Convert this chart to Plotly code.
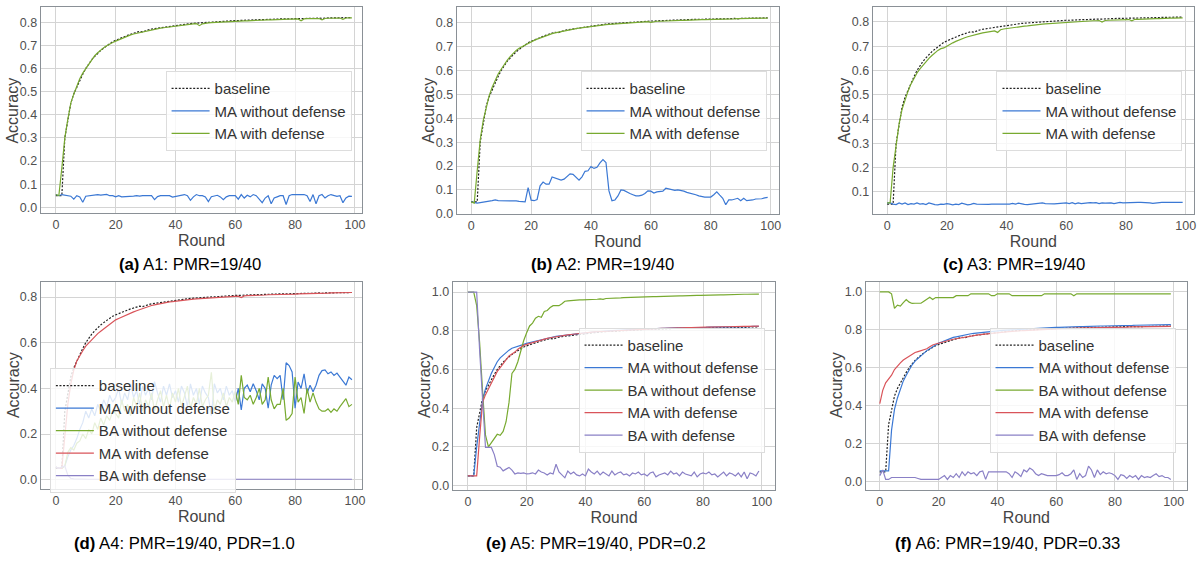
import plotly.graph_objects as go

# rounds 0..99
rounds = list(range(100))

# shared baseline run (no attack)
baseline = [0.05, 0.05, 0.05, 0.30, 0.38, 0.45, 0.49, 0.52, 0.55, 0.575,
            0.60, 0.62, 0.638, 0.652, 0.667, 0.678, 0.688, 0.698, 0.708, 0.716,
            0.722, 0.728, 0.733, 0.738, 0.743, 0.748, 0.752, 0.755, 0.760, 0.758,
            0.764, 0.767, 0.770, 0.772, 0.775, 0.777, 0.779, 0.781, 0.783, 0.785,
            0.787, 0.788, 0.790, 0.791, 0.793, 0.794, 0.795, 0.796, 0.797, 0.798,
            0.800, 0.801, 0.801, 0.802, 0.803, 0.803, 0.804, 0.805, 0.805, 0.806,
            0.807, 0.807, 0.808, 0.808, 0.809, 0.809, 0.810, 0.810, 0.811, 0.811,
            0.812, 0.812, 0.812, 0.813, 0.813, 0.814, 0.814, 0.814, 0.815, 0.815,
            0.815, 0.816, 0.816, 0.816, 0.817, 0.817, 0.817, 0.817, 0.818, 0.816,
            0.818, 0.818, 0.819, 0.819, 0.819, 0.818, 0.820, 0.819, 0.820, 0.820]

# (a) A1
a_ma_without = [0.055, 0.05, 0.055, 0.052, 0.05, 0.048, 0.035, 0.05, 0.045, 0.022,
                0.048, 0.05, 0.05, 0.052, 0.055, 0.053, 0.055, 0.056, 0.05, 0.05,
                0.045, 0.05, 0.045, 0.045, 0.046, 0.047, 0.048, 0.05, 0.048, 0.05,
                0.05, 0.05, 0.05, 0.033, 0.046, 0.05, 0.05, 0.05, 0.05, 0.044,
                0.046, 0.05, 0.052, 0.055, 0.05, 0.03, 0.045, 0.055, 0.05, 0.05,
                0.045, 0.025, 0.046, 0.05, 0.052, 0.045, 0.033, 0.045, 0.05, 0.05,
                0.05, 0.035, 0.055, 0.04, 0.052, 0.045, 0.055, 0.05, 0.035, 0.02,
                0.04, 0.05, 0.015, 0.04, 0.045, 0.05, 0.05, 0.012, 0.05, 0.055,
                0.055, 0.055, 0.054, 0.055, 0.05, 0.025, 0.055, 0.015, 0.05, 0.055,
                0.04, 0.05, 0.055, 0.05, 0.047, 0.05, 0.02, 0.04, 0.048, 0.047]
a_ma_with = [0.055, 0.05, 0.17, 0.30, 0.38, 0.45, 0.49, 0.525, 0.555, 0.58,
             0.60, 0.62, 0.64, 0.655, 0.668, 0.68, 0.69, 0.698, 0.706, 0.712,
             0.718, 0.724, 0.73, 0.735, 0.74, 0.745, 0.749, 0.752, 0.756, 0.759,
             0.762, 0.765, 0.768, 0.77, 0.772, 0.774, 0.776, 0.778, 0.78, 0.782,
             0.784, 0.785, 0.787, 0.789, 0.79, 0.791, 0.793, 0.794, 0.785, 0.793,
             0.796, 0.797, 0.798, 0.799, 0.8, 0.8, 0.801, 0.802, 0.803, 0.804,
             0.804, 0.805, 0.805, 0.806, 0.806, 0.807, 0.807, 0.808, 0.808, 0.809,
             0.809, 0.81, 0.81, 0.811, 0.811, 0.811, 0.812, 0.812, 0.813, 0.813,
             0.813, 0.814, 0.806, 0.814, 0.815, 0.815, 0.815, 0.816, 0.816, 0.81,
             0.816, 0.817, 0.817, 0.817, 0.818, 0.818, 0.812, 0.818, 0.819, 0.819]

# (b) A2
b_ma_without = [0.05, 0.048, 0.045, 0.047, 0.05, 0.052, 0.053, 0.055, 0.058, 0.055,
                0.055, 0.056, 0.056, 0.057, 0.056, 0.054, 0.052, 0.05, 0.05, 0.11,
                0.057, 0.055, 0.06, 0.117, 0.133, 0.124, 0.124, 0.154, 0.15, 0.144,
                0.141, 0.145, 0.155, 0.167, 0.165, 0.155, 0.141, 0.155, 0.178, 0.18,
                0.198, 0.19, 0.195, 0.213, 0.227, 0.215, 0.096, 0.055, 0.058, 0.075,
                0.1, 0.098, 0.09, 0.085, 0.08, 0.075, 0.075, 0.078, 0.085, 0.096,
                0.095, 0.087, 0.092, 0.093, 0.095, 0.107, 0.105, 0.1, 0.098, 0.1,
                0.098, 0.095, 0.09, 0.087, 0.085, 0.08, 0.075, 0.072, 0.07, 0.07,
                0.07, 0.08, 0.092, 0.078, 0.065, 0.038, 0.058, 0.058, 0.06, 0.065,
                0.055, 0.065, 0.055, 0.055, 0.058, 0.062, 0.062, 0.063, 0.067, 0.069]
b_ma_with = [0.05, 0.045, 0.18, 0.31, 0.39, 0.45, 0.495, 0.53, 0.56, 0.585,
             0.605, 0.625, 0.642, 0.658, 0.672, 0.684, 0.693, 0.7, 0.708, 0.715,
             0.72, 0.726, 0.731, 0.736, 0.741, 0.746, 0.75, 0.754, 0.757, 0.76,
             0.763, 0.766, 0.769, 0.771, 0.773, 0.775, 0.777, 0.779, 0.781, 0.783,
             0.785, 0.786, 0.788, 0.789, 0.79, 0.792, 0.793, 0.794, 0.795, 0.796,
             0.797, 0.798, 0.799, 0.8, 0.801, 0.801, 0.802, 0.803, 0.804, 0.804,
             0.801, 0.805, 0.806, 0.806, 0.807, 0.807, 0.808, 0.808, 0.809, 0.809,
             0.81, 0.81, 0.811, 0.811, 0.811, 0.812, 0.812, 0.813, 0.813, 0.813,
             0.814, 0.814, 0.814, 0.815, 0.815, 0.815, 0.816, 0.816, 0.816, 0.817,
             0.817, 0.817, 0.818, 0.818, 0.818, 0.818, 0.819, 0.819, 0.819, 0.819]

# (c) A3
c_ma_without = [0.055, 0.055, 0.05, 0.048, 0.055, 0.05, 0.055, 0.048, 0.052, 0.05,
                0.055, 0.05, 0.052, 0.048, 0.055, 0.05, 0.048, 0.047, 0.05, 0.049,
                0.052, 0.05, 0.047, 0.05, 0.048, 0.054, 0.05, 0.047, 0.049, 0.053,
                0.05, 0.049, 0.05, 0.048, 0.049, 0.05, 0.05, 0.049, 0.05, 0.05,
                0.049, 0.05, 0.053, 0.05, 0.054, 0.05, 0.049, 0.048, 0.049, 0.05,
                0.051, 0.053, 0.055, 0.052, 0.051, 0.05, 0.051, 0.052, 0.054, 0.056,
                0.055, 0.052, 0.056, 0.051, 0.055, 0.052, 0.054, 0.055, 0.056, 0.055,
                0.056, 0.052, 0.055, 0.054, 0.056, 0.055, 0.052, 0.055, 0.057, 0.055,
                0.056, 0.057, 0.057, 0.057, 0.057, 0.057, 0.057, 0.057, 0.055, 0.053,
                0.055, 0.057, 0.057, 0.057, 0.057, 0.054, 0.056, 0.057, 0.057, 0.057]
c_ma_with = [0.055, 0.055, 0.2, 0.30, 0.38, 0.44, 0.48, 0.515, 0.545, 0.57,
             0.59, 0.607, 0.622, 0.637, 0.65, 0.662, 0.673, 0.683, 0.69, 0.693,
             0.70, 0.708, 0.714, 0.72, 0.726, 0.73, 0.735, 0.739, 0.743, 0.746,
             0.749, 0.752, 0.755, 0.757, 0.759, 0.761, 0.763, 0.757, 0.768, 0.771,
             0.773, 0.775, 0.777, 0.778, 0.78, 0.781, 0.783, 0.784, 0.786, 0.787,
             0.788, 0.79, 0.791, 0.792, 0.793, 0.794, 0.795, 0.796, 0.797, 0.798,
             0.799, 0.8, 0.8, 0.801, 0.802, 0.802, 0.803, 0.804, 0.804, 0.805,
             0.805, 0.806, 0.8, 0.806, 0.807, 0.807, 0.808, 0.808, 0.809, 0.809,
             0.81, 0.81, 0.805, 0.811, 0.811, 0.812, 0.812, 0.812, 0.813, 0.813,
             0.814, 0.814, 0.815, 0.815, 0.815, 0.816, 0.816, 0.816, 0.817, 0.817]

# (d) A4
d_ma_without = [0.055, 0.05, 0.05, 0.06, 0.1, 0.13, 0.15, 0.18, 0.22, 0.25,
                0.3, 0.27, 0.31, 0.28, 0.33, 0.3, 0.35, 0.32, 0.37, 0.34,
                0.36, 0.4, 0.33, 0.38, 0.35, 0.42, 0.36, 0.39, 0.33, 0.41,
                0.37, 0.4, 0.35, 0.43, 0.38, 0.34, 0.41, 0.37, 0.42, 0.36,
                0.39, 0.34, 0.41, 0.38, 0.32, 0.42, 0.37, 0.4, 0.33, 0.41,
                0.38, 0.36, 0.28, 0.42, 0.38, 0.4, 0.35, 0.41, 0.37, 0.39,
                0.34, 0.4, 0.306, 0.40, 0.414, 0.385, 0.42, 0.39, 0.35, 0.42,
                0.40, 0.313, 0.414, 0.457, 0.443, 0.457, 0.35, 0.512, 0.50, 0.472,
                0.313, 0.428, 0.40, 0.464, 0.378, 0.414, 0.385, 0.414, 0.457, 0.478,
                0.481, 0.464, 0.472, 0.457, 0.467, 0.45, 0.436, 0.414, 0.45, 0.438]
d_ba_without = [0.055, 0.05, 0.05, 0.06, 0.12, 0.14, 0.13, 0.16, 0.17, 0.2,
                0.18, 0.22, 0.2, 0.25, 0.22, 0.27, 0.24, 0.28, 0.26, 0.3,
                0.29, 0.27, 0.35, 0.3, 0.33, 0.28, 0.36, 0.32, 0.38, 0.3,
                0.35, 0.32, 0.38, 0.3, 0.35, 0.39, 0.32, 0.37, 0.31, 0.38,
                0.34, 0.4, 0.32, 0.36, 0.41, 0.31, 0.36, 0.33, 0.4, 0.32,
                0.35, 0.37, 0.47, 0.3, 0.35, 0.33, 0.38, 0.32, 0.36, 0.34,
                0.39, 0.33, 0.457, 0.36, 0.35, 0.37, 0.33, 0.36, 0.40, 0.33,
                0.35, 0.45, 0.35, 0.31, 0.33, 0.33, 0.40, 0.26, 0.27, 0.29,
                0.45, 0.34, 0.36, 0.29, 0.40, 0.34, 0.38, 0.34, 0.31, 0.30,
                0.30, 0.31, 0.295, 0.31, 0.30, 0.32, 0.34, 0.355, 0.32, 0.33]
d_ma_with = [0.055, 0.05, 0.05, 0.2, 0.33, 0.42, 0.48, 0.52, 0.545, 0.565,
             0.585, 0.6, 0.615, 0.63, 0.64, 0.65, 0.66, 0.672, 0.683, 0.693,
             0.70, 0.706, 0.712, 0.72, 0.726, 0.73, 0.735, 0.74, 0.745, 0.75,
             0.755, 0.76, 0.763, 0.766, 0.769, 0.772, 0.775, 0.777, 0.779, 0.78,
             0.782, 0.783, 0.785, 0.787, 0.788, 0.789, 0.791, 0.792, 0.793, 0.794,
             0.795, 0.796, 0.797, 0.798, 0.799, 0.8, 0.801, 0.801, 0.802, 0.803,
             0.804, 0.804, 0.798, 0.805, 0.806, 0.806, 0.807, 0.808, 0.808, 0.809,
             0.809, 0.81, 0.81, 0.81, 0.811, 0.811, 0.812, 0.812, 0.813, 0.813,
             0.813, 0.814, 0.814, 0.814, 0.815, 0.815, 0.816, 0.816, 0.816, 0.817,
             0.817, 0.817, 0.818, 0.818, 0.818, 0.819, 0.819, 0.818, 0.82, 0.82]
d_ba_with = [0.055, 0.05, 0.055, 0.06, 0.02, 0.006, 0.004, 0.003, 0.003, 0.002,
             0.002, 0.002, 0.002, 0.002, 0.002, 0.002, 0.002, 0.002, 0.002, 0.002,
             0.002, 0.002, 0.002, 0.002, 0.002, 0.002, 0.002, 0.002, 0.002, 0.002,
             0.002, 0.002, 0.002, 0.002, 0.002, 0.002, 0.002, 0.002, 0.002, 0.002,
             0.002, 0.002, 0.002, 0.002, 0.002, 0.002, 0.002, 0.002, 0.002, 0.002,
             0.002, 0.002, 0.002, 0.002, 0.002, 0.002, 0.002, 0.002, 0.002, 0.002,
             0.002, 0.002, 0.002, 0.002, 0.002, 0.002, 0.002, 0.002, 0.002, 0.002,
             0.002, 0.002, 0.002, 0.002, 0.002, 0.002, 0.002, 0.002, 0.002, 0.002,
             0.002, 0.002, 0.002, 0.002, 0.002, 0.002, 0.002, 0.002, 0.002, 0.002,
             0.002, 0.002, 0.002, 0.002, 0.002, 0.002, 0.002, 0.002, 0.002, 0.002]

# (e) A5
e_ma_without = [0.05, 0.05, 0.05, 0.2, 0.32, 0.44, 0.5, 0.545, 0.58, 0.61,
                0.64, 0.66, 0.675, 0.69, 0.70, 0.71, 0.716, 0.72, 0.725, 0.73,
                0.735, 0.739, 0.743, 0.747, 0.751, 0.755, 0.758, 0.762, 0.765, 0.768,
                0.771, 0.773, 0.776, 0.778, 0.78, 0.782, 0.784, 0.786, 0.787, 0.789,
                0.79, 0.792, 0.793, 0.794, 0.795, 0.797, 0.798, 0.799, 0.8, 0.801,
                0.802, 0.803, 0.804, 0.804, 0.805, 0.806, 0.807, 0.807, 0.808, 0.809,
                0.809, 0.81, 0.81, 0.811, 0.811, 0.812, 0.812, 0.813, 0.813, 0.814,
                0.814, 0.815, 0.815, 0.815, 0.816, 0.816, 0.817, 0.817, 0.817, 0.818,
                0.818, 0.818, 0.819, 0.819, 0.819, 0.82, 0.82, 0.82, 0.82, 0.821,
                0.821, 0.821, 0.821, 0.822, 0.822, 0.822, 0.822, 0.823, 0.823, 0.823]
e_ba_without = [1.0, 1.0, 1.0, 0.93, 0.74, 0.49, 0.26, 0.2, 0.22, 0.24,
                0.265, 0.26, 0.28, 0.33, 0.43, 0.58, 0.6, 0.64, 0.7, 0.75,
                0.79, 0.825, 0.84, 0.865, 0.875, 0.87, 0.9, 0.905, 0.92, 0.93,
                0.93, 0.93, 0.94, 0.953, 0.955, 0.957, 0.958, 0.958, 0.96, 0.96,
                0.96, 0.962, 0.962, 0.963, 0.963, 0.965, 0.963, 0.967, 0.967, 0.968,
                0.968, 0.97, 0.97, 0.971, 0.972, 0.972, 0.973, 0.973, 0.974, 0.975,
                0.975, 0.975, 0.976, 0.977, 0.977, 0.978, 0.978, 0.978, 0.979, 0.98,
                0.98, 0.98, 0.981, 0.981, 0.982, 0.982, 0.982, 0.983, 0.983, 0.983,
                0.984, 0.984, 0.985, 0.985, 0.985, 0.986, 0.986, 0.986, 0.987, 0.987,
                0.987, 0.988, 0.988, 0.988, 0.989, 0.989, 0.989, 0.99, 0.99, 0.99]
e_ma_with = [0.05, 0.05, 0.05, 0.05, 0.25, 0.43, 0.47, 0.5, 0.53, 0.56,
             0.59, 0.61, 0.63, 0.65, 0.67, 0.68, 0.69, 0.705, 0.715, 0.725,
             0.73, 0.735, 0.74, 0.745, 0.75, 0.754, 0.757, 0.761, 0.764, 0.767,
             0.77, 0.772, 0.775, 0.777, 0.779, 0.781, 0.783, 0.785, 0.787, 0.788,
             0.79, 0.791, 0.792, 0.794, 0.795, 0.796, 0.797, 0.798, 0.799, 0.8,
             0.801, 0.802, 0.803, 0.804, 0.805, 0.806, 0.806, 0.807, 0.808, 0.809,
             0.809, 0.81, 0.81, 0.811, 0.812, 0.812, 0.813, 0.813, 0.814, 0.814,
             0.815, 0.815, 0.816, 0.816, 0.816, 0.817, 0.817, 0.818, 0.818, 0.818,
             0.819, 0.819, 0.819, 0.82, 0.82, 0.82, 0.821, 0.821, 0.821, 0.822,
             0.822, 0.822, 0.822, 0.823, 0.823, 0.823, 0.824, 0.824, 0.824, 0.824]
e_ba_with = [1.0, 1.0, 1.0, 1.0, 0.7, 0.42, 0.197, 0.197, 0.197, 0.16,
             0.1, 0.095, 0.076, 0.085, 0.094, 0.08, 0.06, 0.065, 0.063, 0.065,
             0.06, 0.062, 0.066, 0.06, 0.08, 0.07, 0.065, 0.055, 0.065, 0.06,
             0.11, 0.07, 0.055, 0.04, 0.075, 0.06, 0.07, 0.055, 0.05, 0.06,
             0.05, 0.085, 0.07, 0.06, 0.075, 0.055, 0.07, 0.06, 0.05, 0.075,
             0.055, 0.065, 0.07, 0.055, 0.06, 0.05, 0.065, 0.06, 0.07, 0.055,
             0.06, 0.05, 0.065, 0.07, 0.045, 0.055, 0.06, 0.065, 0.055, 0.075,
             0.06, 0.065, 0.05, 0.07, 0.06, 0.055, 0.05, 0.07, 0.045, 0.06,
             0.065, 0.06, 0.07, 0.055, 0.06, 0.045, 0.06, 0.07, 0.05, 0.065,
             0.06, 0.05, 0.065, 0.045, 0.07, 0.035, 0.065, 0.06, 0.05, 0.075]

# (f) A6
f_ma_without = [0.055, 0.055, 0.055, 0.055, 0.27, 0.38, 0.44, 0.49, 0.53, 0.56,
                0.59, 0.615, 0.635, 0.65, 0.665, 0.68, 0.69, 0.70, 0.71, 0.72,
                0.73, 0.735, 0.742, 0.748, 0.755, 0.76, 0.763, 0.767, 0.77, 0.773,
                0.776, 0.779, 0.781, 0.783, 0.785, 0.787, 0.789, 0.79, 0.792, 0.793,
                0.795, 0.796, 0.797, 0.798, 0.8, 0.801, 0.802, 0.803, 0.804, 0.805,
                0.806, 0.806, 0.807, 0.808, 0.809, 0.81, 0.81, 0.811, 0.812, 0.812,
                0.813, 0.813, 0.814, 0.814, 0.815, 0.815, 0.816, 0.816, 0.817, 0.817,
                0.818, 0.818, 0.818, 0.819, 0.819, 0.82, 0.82, 0.82, 0.821, 0.821,
                0.821, 0.822, 0.822, 0.822, 0.823, 0.823, 0.823, 0.824, 0.824, 0.824,
                0.825, 0.825, 0.825, 0.825, 0.826, 0.826, 0.826, 0.826, 0.827, 0.827]
f_ba_without = [1.0, 1.0, 1.0, 1.0, 0.99, 0.913, 0.93, 0.925, 0.943, 0.96,
                0.946, 0.939, 0.94, 0.94, 0.94, 0.951, 0.96, 0.972, 0.96, 0.97,
                0.97, 0.97, 0.97, 0.97, 0.97, 0.97, 0.98, 0.98, 0.98, 0.98,
                0.98, 0.99, 0.99, 0.99, 0.99, 0.99, 0.99, 0.99, 0.98, 0.98,
                0.99, 0.99, 0.99, 0.99, 0.99, 0.98, 0.98, 0.98, 0.98, 0.98,
                0.98, 0.98, 0.98, 0.98, 0.98, 0.98, 0.99, 0.99, 0.99, 0.99,
                0.99, 0.99, 0.99, 0.99, 0.99, 0.99, 0.98, 0.99, 0.99, 0.99,
                0.99, 0.99, 0.99, 0.99, 0.99, 0.99, 0.99, 0.99, 0.99, 0.99,
                0.99, 0.99, 0.99, 0.99, 0.99, 0.99, 0.99, 0.99, 0.99, 0.99,
                0.99, 0.99, 0.99, 0.99, 0.99, 0.99, 0.99, 0.99, 0.99, 0.99]
f_ma_with = [0.41, 0.48, 0.52, 0.54, 0.56, 0.59, 0.61, 0.625, 0.64, 0.65,
             0.66, 0.67, 0.68, 0.685, 0.69, 0.695, 0.70, 0.71, 0.72, 0.725,
             0.73, 0.734, 0.738, 0.742, 0.746, 0.75, 0.753, 0.756, 0.76, 0.762,
             0.765, 0.767, 0.77, 0.772, 0.774, 0.776, 0.778, 0.78, 0.782, 0.783,
             0.785, 0.786, 0.788, 0.789, 0.79, 0.792, 0.793, 0.794, 0.795, 0.796,
             0.797, 0.798, 0.799, 0.8, 0.801, 0.801, 0.802, 0.803, 0.803, 0.804,
             0.805, 0.805, 0.806, 0.806, 0.807, 0.807, 0.808, 0.808, 0.809, 0.809,
             0.81, 0.81, 0.81, 0.811, 0.811, 0.811, 0.812, 0.812, 0.812, 0.813,
             0.813, 0.813, 0.814, 0.814, 0.814, 0.815, 0.815, 0.815, 0.815, 0.816,
             0.816, 0.816, 0.816, 0.817, 0.817, 0.817, 0.817, 0.818, 0.818, 0.818]
f_ba_with = [0.03, 0.06, 0.01, 0.01, 0.02, 0.02, 0.02, 0.02, 0.02, 0.02,
             0.02, 0.02, 0.02, 0.015, 0.01, 0.01, 0.01, 0.01, 0.01, 0.01,
             0.01, 0.02, 0.03, 0.01, 0.03, 0.02, 0.04, 0.02, 0.05, 0.03,
             0.05, 0.04, 0.045, 0.03, 0.05, 0.055, 0.01, 0.05, 0.05, 0.05,
             0.05, 0.05, 0.05, 0.05, 0.04, 0.02, 0.05, 0.04, 0.025, 0.06,
             0.05, 0.07, 0.06, 0.04, 0.03, 0.04, 0.035, 0.03, 0.03, 0.03,
             0.03, 0.035, 0.045, 0.03, 0.03, 0.04, 0.06, 0.01, 0.04, 0.02,
             0.03, 0.08, 0.06, 0.02, 0.06, 0.035, 0.05, 0.04, 0.045, 0.04,
             0.03, 0.01, 0.035, 0.03, 0.015, 0.03, 0.02, 0.03, 0.01, 0.03,
             0.02, 0.025, 0.02, 0.03, 0.04, 0.025, 0.03, 0.02, 0.02, 0.01]

captions = ["<b>(a)</b> A1: PMR=19/40", "<b>(b)</b> A2: PMR=19/40", "<b>(c)</b> A3: PMR=19/40",
            "<b>(d)</b> A4: PMR=19/40, PDR=1.0", "<b>(e)</b> A5: PMR=19/40, PDR=0.2",
            "<b>(f)</b> A6: PMR=19/40, PDR=0.33"]

BLACK = "#222222"
BLUE = "#3b78d4"
GREEN = "#78aa30"
RED = "#d9545a"
PURPLE = "#8a80c6"
W, H = 1198, 562
FONT = "Liberation Sans, Arial, sans-serif"

# panel layout in pixels: plot box, axis ranges, y tick step, legend box top-left,
# caption centre and y-title centre
panels = [
    dict(x=(41, 363), y=(7, 216), xr=[-5, 102.4], yr=[-0.026, 0.866], dt=0.1, t0=0.0, leg=(166, 72),
         cap=(190, 268), yt=(13, 112),
         series=[("baseline", baseline, BLACK, True), ("MA without defense", a_ma_without, BLUE, False),
                 ("MA with defense", a_ma_with, GREEN, False)]),
    dict(x=(458, 781), y=(7, 217), xr=[-4.8, 102.8], yr=[-0.002, 0.866], dt=0.1, t0=0.0, leg=(582, 72),
         cap=(604, 268), yt=(430, 112),
         series=[("baseline", baseline, BLACK, True), ("MA without defense", b_ma_without, BLUE, False),
                 ("MA with defense", b_ma_with, GREEN, False)]),
    dict(x=(875, 1197), y=(7, 217), xr=[-4.8, 102.8], yr=[0.008, 0.862], dt=0.1, t0=0.1, leg=(999, 72),
         cap=(1017, 268), yt=(847, 112),
         series=[("baseline", baseline, BLACK, True), ("MA without defense", c_ma_without, BLUE, False),
                 ("MA with defense", c_ma_with, GREEN, False)]),
    dict(x=(41, 363), y=(286, 495), xr=[-5, 102.4], yr=[-0.04, 0.864], dt=0.2, t0=0.0, leg=(50, 373),
         cap=(185, 550), yt=(13, 390),
         series=[("baseline", baseline, BLACK, True), ("MA without defense", d_ma_without, BLUE, False),
                 ("BA without defense", d_ba_without, GREEN, False), ("MA with defense", d_ma_with, RED, False),
                 ("BA with defense", d_ba_with, PURPLE, False)]),
    dict(x=(454, 777), y=(286, 496), xr=[-5.1, 104.5], yr=[-0.022, 1.05], dt=0.2, t0=0.0, leg=(580, 332),
         cap=(597, 550), yt=(425, 390),
         series=[("baseline", baseline, BLACK, True), ("MA without defense", e_ma_without, BLUE, False),
                 ("BA without defense", e_ba_without, GREEN, False), ("MA with defense", e_ma_with, RED, False),
                 ("BA with defense", e_ba_with, PURPLE, False)]),
    dict(x=(868, 1190), y=(286, 496), xr=[-4.75, 104.5], yr=[-0.045, 1.05], dt=0.2, t0=0.0, leg=(992, 332),
         cap=(1010, 550), yt=(838, 390),
         series=[("baseline", baseline, BLACK, True), ("MA without defense", f_ma_without, BLUE, False),
                 ("BA without defense", f_ba_without, GREEN, False), ("MA with defense", f_ma_with, RED, False),
                 ("BA with defense", f_ba_with, PURPLE, False)]),
]

fig = go.Figure()
layout = dict(width=W, height=H, margin=dict(l=0, r=0, t=0, b=0), plot_bgcolor="white",
              paper_bgcolor="white", font=dict(family=FONT, color="#444444"), annotations=[])

for i, p in enumerate(panels):
    n = "" if i == 0 else str(i + 1)
    leg = "legend" + n
    for name, vals, color, dotted in p["series"]:
        fig.add_trace(go.Scatter(
            x=rounds, y=vals, mode="lines", name=name, legend=leg,
            xaxis="x" + n, yaxis="y" + n,
            line=dict(color=color, width=1.2, dash="2px,1.6px" if dotted else "solid")))
    axis_common = dict(showline=True, mirror=True, linecolor="#8a9096", linewidth=1.3,
                       showgrid=True, gridcolor="#d4d4d4", gridwidth=1.3, zeroline=False,
                       ticks="", tickfont=dict(size=12.5, color="#505050"))
    layout["xaxis" + n] = dict(axis_common, domain=[p["x"][0] / W, p["x"][1] / W], range=p["xr"],
                               anchor="y" + n, tickmode="linear", tick0=0, dtick=20,
                               title=dict(text="Round", font=dict(size=16, color="#444444"), standoff=1))
    layout["yaxis" + n] = dict(axis_common, domain=[1 - p["y"][1] / H, 1 - p["y"][0] / H], range=p["yr"],
                               anchor="x" + n, tickmode="linear", tick0=p["t0"], dtick=p["dt"], tickformat=".1f")
    layout[leg] = dict(x=p["leg"][0] / W, y=1 - p["leg"][1] / H, xanchor="left", yanchor="top",
                       bgcolor="rgba(255,255,255,0.82)", bordercolor="#dddddd", borderwidth=1,
                       font=dict(size=15, color="#333333"), itemwidth=38)
    layout["annotations"].append(dict(text="Accuracy", x=p["yt"][0] / W, y=1 - p["yt"][1] / H,
                                      xref="paper", yref="paper", showarrow=False, textangle=-90,
                                      xanchor="center", yanchor="middle",
                                      font=dict(size=16, color="#444444")))
    layout["annotations"].append(dict(text=captions[i], x=p["cap"][0] / W, y=1 - p["cap"][1] / H,
                                      xref="paper", yref="paper", showarrow=False,
                                      xanchor="center", yanchor="middle",
                                      font=dict(size=16.7, color="black")))

fig.update_layout(**layout)
# drop the default page margin so the figure sits at the window's top-left corner
fig.write_html("out.html", config={"displayModeBar": False},
               post_script="document.body.style.margin='0';")
